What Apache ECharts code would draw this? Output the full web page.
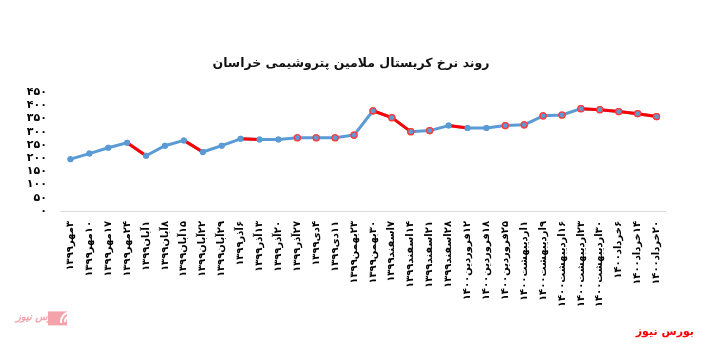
<!DOCTYPE html>
<html>
<head>
<meta charset="utf-8">
<script src="https://cdn.jsdelivr.net/npm/echarts@6/dist/echarts.min.js"></script>
<style>
html,body{margin:0;padding:0;background:#fff;}
#c{width:702px;height:348px;}
</style>
</head>
<body>
<div id="c"></div>
<script>
const title = 'روند نرخ کریستال ملامین پتروشیمی خراسان';
const categories = [
  '۳مهر۱۳۹۹','۱۰مهر۱۳۹۹','۱۷مهر۱۳۹۹','۲۴مهر۱۳۹۹','۱آبان۱۳۹۹','۸آبان۱۳۹۹','۱۵آبان۱۳۹۹','۲۲آبان۱۳۹۹',
  '۲۹آبان۱۳۹۹','۶آذر۱۳۹۹','۱۳آذر۱۳۹۹','۲۰آذر۱۳۹۹','۲۷آذر۱۳۹۹','۴دی۱۳۹۹','۱۱دی۱۳۹۹','۲۳بهمن۱۳۹۹',
  '۳۰بهمن۱۳۹۹','۷اسفند۱۳۹۹','۱۴اسفند۱۳۹۹','۲۱اسفند۱۳۹۹','۲۸اسفند۱۳۹۹','۱۲فروردین۱۴۰۰','۱۸فروردین۱۴۰۰','۲۵فروردین۱۴۰۰',
  '۱اردیبهشت۱۴۰۰','۹اردیبهشت۱۴۰۰','۱۶اردیبهشت۱۴۰۰','۲۳اردیبهشت۱۴۰۰','۳۰اردیبهشت۱۴۰۰','۶خرداد۱۴۰۰','۱۴خرداد۱۴۰۰','۲۰خرداد۱۴۰۰'
];
const prices = [
  196, 217, 239, 258, 209, 247, 267, 223,
  247, 273, 270, 270, 277, 277, 277, 287,
  379, 353, 300, 304, 323, 314, 314, 323,
  326, 360, 363, 387, 383, 376, 368, 357
];
const yTickLabels = ['٠','۵٠','۱٠٠','۱۵٠','۲٠٠','۲۵٠','۳٠٠','۳۵٠','۴٠٠','۴۵٠'];
const footerText = 'بورس نیوز';

const BLUE = '#5b9bd5';
const RED = '#ff0000';

// marker styling (Excel-like per-point formatting)
const lineData = prices.map((v, i) => {
  const redEdge = i >= 12 && !(i >= 20 && i <= 22);
  return {
    value: v,
    itemStyle: redEdge ? {color: BLUE, borderColor: '#ff3b3b', borderWidth: 1.2} : {color: BLUE, borderColor: BLUE, borderWidth: 0}
  };
});

const series = [{
  type: 'line', data: lineData, symbol: 'circle', symbolSize: 6,
  lineStyle: {color: BLUE, width: 3}, z: 2, animation: false
}];

// red overlay for falling segments
let run = null;
for (let i = 0; i < prices.length - 1; i++) {
  const down = prices[i + 1] < prices[i];
  if (down) {
    if (!run) run = [i];
    run.push(i + 1);
  }
  if ((!down || i === prices.length - 2) && run) {
    const r = run;
    const d = prices.map((v, k) => (r.indexOf(k) >= 0 ? v : '-'));
    series.push({type: 'line', data: d, symbol: 'none', lineStyle: {color: RED, width: 3}, z: 3, animation: false, silent: true});
    run = null;
  }
}
series.push({
  type: 'line', data: lineData, symbol: 'circle', symbolSize: 6,
  lineStyle: {width: 0, opacity: 0}, z: 4, animation: false
});

const chart = echarts.init(document.getElementById('c'), null, {renderer: 'canvas'});
chart.setOption({
  backgroundColor: '#fff',
  animation: false,
  title: {
    text: title, left: 'center', top: 52,
    textStyle: {fontFamily: 'DejaVu Sans', fontSize: 12.5, fontWeight: 'bold', color: '#111'}
  },
  grid: {left: 61, right: 36, top: 92, bottom: 137, containLabel: false},
  xAxis: {
    type: 'category', data: categories, boundaryGap: true,
    axisLine: {lineStyle: {color: '#d9d9d9', width: 1}},
    axisTick: {show: false},
    axisLabel: {
      rotate: 90, interval: 0, margin: 10, color: '#000',
      fontFamily: 'DejaVu Sans', fontSize: 10, fontWeight: 'bold',
      formatter: v => '\u202B' + v + '\u202C'
    }
  },
  yAxis: {
    type: 'value', min: 0, max: 450, interval: 50,
    axisLine: {show: false}, axisTick: {show: false}, splitLine: {show: false},
    axisLabel: {
      margin: 14, color: '#000', fontFamily: 'DejaVu Sans', fontSize: 11, fontWeight: 'bold',
      formatter: (v) => yTickLabels[Math.round(v / 50)]
    }
  },
  graphic: [
    {type: 'text', right: 8, top: 327, style: {text: footerText, fill: '#ff0000', font: 'bold 11px "DejaVu Sans"'}},
    {type: 'group', left: 16, top: 310, children: [
      {type: 'text', x: 0, y: 1, style: {text: footerText, fill: '#f2a3ab', font: 'italic bold 10px "DejaVu Sans"'}},
      {type: 'rect', shape: {x: 32, y: 0, width: 19, height: 14}, style: {fill: '#f2a3ab'}},
      {type: 'arc', shape: {cx: 54, cy: 10, r: 9, startAngle: Math.PI * 0.95, endAngle: Math.PI * 1.45}, style: {stroke: '#fff', lineWidth: 2, fill: null}},
      {type: 'arc', shape: {cx: 54, cy: 10, r: 5, startAngle: Math.PI * 0.95, endAngle: Math.PI * 1.45}, style: {stroke: '#fff', lineWidth: 2, fill: null}}
    ]}
  ],
  series: series
});
</script>
</body>
</html>
